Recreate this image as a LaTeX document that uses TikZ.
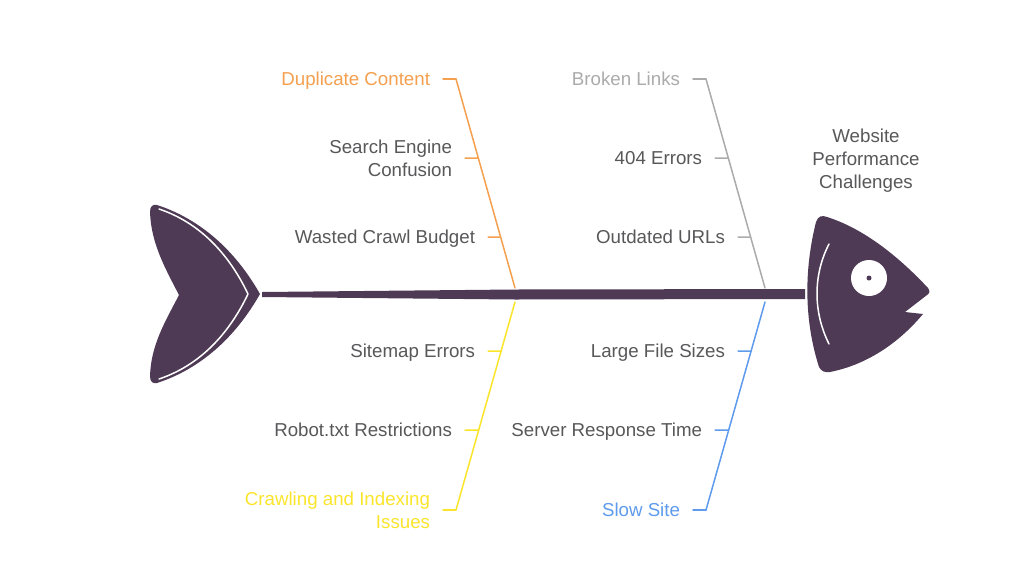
\documentclass[tikz,border=0pt]{standalone}
\usepackage{fontspec}
\usetikzlibrary{calc}
\setmainfont{Liberation Sans}
\definecolor{fishc}{HTML}{4F3A55}
\definecolor{textc}{HTML}{58585A}
\definecolor{orangec}{HTML}{F4A04F}
\definecolor{yellowc}{HTML}{FBE52B}
\definecolor{greyc}{HTML}{ABABAB}
\definecolor{bluec}{HTML}{5E9BEC}
\tikzset{
  lbl/.style={anchor=east,inner xsep=13pt,inner ysep=0pt,outer sep=0pt,align=right,text=#1,font=\fontsize{18.7}{23}\selectfont},
  lbl/.default=textc,
  bone/.style={line width=1.5pt,line cap=round,line join=round},
  fishw/.style={draw=white,line width=1.5pt,line cap=round}
}
\begin{document}
\begin{tikzpicture}[x=1pt,y=-1pt,line cap=round,line join=round]
  \useasboundingbox[fill=white](0,0)rectangle(1024,576);
  % tail
  \fill[fishc](150,212)..controls(150,206) and (153,204)..(157,205)..controls(200,219) and (235,250)..(260,294)..controls(235,338) and (200,369)..(157,383)..controls(153,384) and (150,382)..(150,376)..controls(151,345) and (165,322)..(179,295)..controls(165,268) and (151,243)..(150,212)--cycle;
  \draw[fishw](159,209)..controls(198,222) and (228,252)..(248,294)..controls(228,336) and (198,366)..(159,379);
  % spine
  \fill[fishc](262,292)--(515,289.5)--(805,289)--(805,299)--(515,299.5)--(262,297)--cycle;
  % head
  \fill[fishc](816,222)..controls(818,216) and (822,215)..(827,217)..controls(865,229) and (900,258)..(928,288)..controls(930,291) and (930,293)..(927,295)--(905,312)--(923,314)..controls(897,345) and (865,365)..(830,372)..controls(825,373) and (821,371)..(819,367)..controls(804,320) and (804,270)..(816,222)--cycle;
  \draw[fishw](829,244)..controls(813,275) and (813,312)..(829,344);
  \fill[white](869,278)circle(18);
  \fill[fishc](869,278)circle(2.5);
  \node[text=textc,align=center,font=\fontsize{18.7}{23}\selectfont](title)at(866,158.5){\rule{0pt}{17.5pt}Website\\Performance\\Challenges\vphantom{Ag}};
  % bones
  \coordinate(dup)at(456,79);
  \coordinate(dupend)at(515,288);
  \coordinate(crawl)at(456,510);
  \coordinate(crawlend)at(515,302);
  \coordinate(brok)at(706,79);
  \coordinate(brokend)at(765,288);
  \coordinate(slow)at(706,510);
  \coordinate(slowend)at(765,302);
  \draw[bone,orangec](dup)--(dupend);
  \draw[bone,yellowc](crawl)--(crawlend);
  \draw[bone,greyc](brok)--(brokend);
  \draw[bone,bluec](slow)--(slowend);
  % labels and ticks
  \foreach \n/\x/\y/\c/\m in{a/443/79/orangec/{Duplicate Content},b/465/158/textc/{Search Engine\\Confusion},c/488/237/textc/{Wasted Crawl Budget},d/693/79/greyc/{Broken Links},e/715/158/textc/{404 Errors},f/738/237/textc/{Outdated URLs},g/488/351/textc/{Sitemap Errors},h/465/430/textc/{Robot.txt Restrictions},i/443/510/yellowc/{Crawling and Indexing\\Issues},j/738/351/textc/{Large File Sizes},k/715/430/textc/{Server Response Time},l/693/510/bluec/{Slow Site}}
    \node[lbl=\c](\n)at(\x,\y){\rule{0pt}{17.5pt}\m\vphantom{Ag}};
  \foreach \n/\k/\s/\e/\c in{a/0/dup/dupend/orangec,b/.378/dup/dupend/orangec,c/.756/dup/dupend/orangec,d/0/brok/brokend/greyc,e/.378/brok/brokend/greyc,f/.756/brok/brokend/greyc,g/.7644/crawl/crawlend/yellowc,h/.3846/crawl/crawlend/yellowc,i/0/crawl/crawlend/yellowc,j/.7644/slow/slowend/bluec,k/.3846/slow/slowend/bluec,l/0/slow/slowend/bluec}
    \draw[bone,\c](\n.east)--($(\s)!\k!(\e)$);
\end{tikzpicture}
\end{document}
